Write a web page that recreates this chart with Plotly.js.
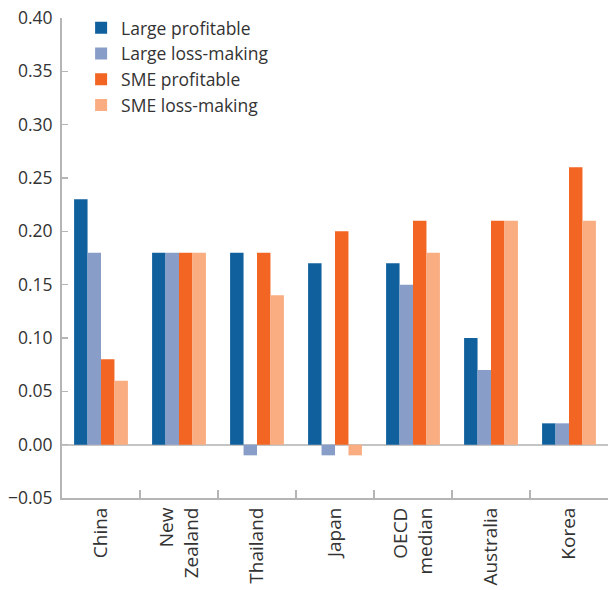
<!DOCTYPE html>
<html><head><meta charset="utf-8">
<script src="https://cdn.plot.ly/plotly-3.0.1.min.js"></script>
<style>html,body{margin:0;padding:0;background:#fff}#c{width:608px;height:590px}</style>
</head><body><div id="c"></div>
<script>
const categories = ["China", "New<br>Zealand", "Thailand", "Japan", "OECD<br>median", "Australia", "Korea"];
const largeProfitable = [0.23, 0.18, 0.18, 0.17, 0.17, 0.10, 0.02];
const largeLossMaking = [0.18, 0.18, -0.01, -0.01, 0.15, 0.07, 0.02];
const smeProfitable = [0.08, 0.18, 0.18, 0.20, 0.21, 0.21, 0.26];
const smeLossMaking = [0.06, 0.18, 0.14, -0.01, 0.18, 0.21, 0.21];
const seriesNames = ["Large profitable", "Large loss-making", "SME profitable", "SME loss-making"];
const colors = ["#10609e", "#889dc8", "#f26522", "#f9ad80"];
const yTicks = [-0.05, 0, 0.05, 0.10, 0.15, 0.20, 0.25, 0.30, 0.35, 0.40];

const series = [largeProfitable, largeLossMaking, smeProfitable, smeLossMaking];
const data = series.map((v, i) => ({
  type: "bar", x: categories, y: v, name: seriesNames[i],
  marker: {color: colors[i], line: {width: 0}}
}));
const font = "'Open Sans', sans-serif";
const layout = {
  width: 608, height: 590,
  margin: {l: 62, r: 0, t: 18, b: 92},
  barmode: "group", bargap: 0.31, bargroupgap: 0,
  paper_bgcolor: "#fff", plot_bgcolor: "#fff",
  font: {family: font, size: 17, color: "#333"},
  showlegend: true,
  legend: {x: 0.035, y: 1.017, xanchor: "left", yanchor: "top", bgcolor: "rgba(0,0,0,0)",
    font: {size: 17.5, color: "#333"}, tracegroupgap: 0, itemwidth: 30},
  xaxis: {
    type: "category", tickangle: -90, tickson: "boundaries",
    ticks: "inside", ticklen: 8, tickwidth: 1.5, tickcolor: "#b5b5b5",
    showline: true, linecolor: "#b5b5b5", linewidth: 2, showgrid: false,
    tickfont: {size: 19, color: "#333"}, fixedrange: true
  },
  yaxis: {
    range: [-0.05, 0.40], tickvals: yTicks, tickformat: ".2f",
    ticks: "inside", ticklen: 6, tickwidth: 1.5, tickcolor: "#b5b5b5",
    showline: true, linecolor: "#b5b5b5", linewidth: 2, showgrid: false,
    zeroline: true, zerolinecolor: "#c4c4c4", zerolinewidth: 2,
    tickfont: {size: 17.5, color: "#333"}, ticklabelstandoff: 4
  }
};
Plotly.newPlot("c", data, layout, {displayModeBar: false, staticPlot: true});
</script>
</body></html>
